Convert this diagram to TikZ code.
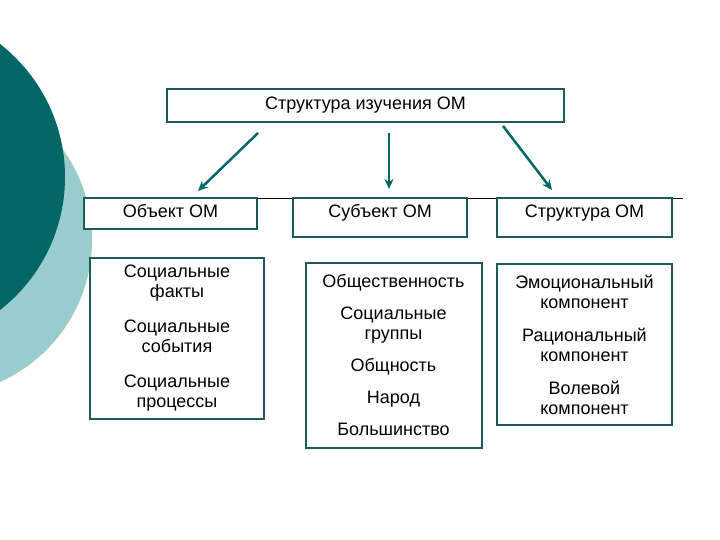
\documentclass[tikz,border=0pt]{standalone}
\usepackage{fontspec}
\setmainfont{Liberation Sans}
\usetikzlibrary{arrows.meta}
\definecolor{darkteal}{RGB}{0,102,102}
\definecolor{lightteal}{RGB}{153,204,204}
\definecolor{boxline}{RGB}{30,90,90}

\begin{document}
\begin{tikzpicture}[x=1pt,y=-1pt,
        headbox/.style={draw=boxline, line width=2pt, fill=white, inner sep=0pt,
            text height=13pt, text depth=4pt, font=\fontsize{18}{20}\selectfont},
        listbox/.style={draw=boxline, line width=2pt, fill=white, inner sep=0pt,
            align=center, font=\fontsize{18}{20}\selectfont},
        arr/.style={-{Stealth[length=10pt,width=9pt]}, line width=2.5pt, draw=darkteal}]
    \useasboundingbox (0,0) rectangle (720,540);

    % circles at the left edge
    \begin{scope}
        \clip (0,0) rectangle (720,540);
        \fill[lightteal] (-63.5,240) circle (155.5pt);
        \fill[darkteal] (-103.5,177) circle (168.5pt);
    \end{scope}

    % thin rule along the top of the boxes
    \coordinate (rulestart) at (84,198);
    \coordinate (ruleend) at (683,198);
    \draw[line width=0.8pt] (rulestart) -- (ruleend);

    \node [headbox, minimum width=397pt, minimum height=33pt] (title) at (365.5,105.5) {Структура изучения ОМ};

    \node [headbox, minimum width=173pt, minimum height=31pt] (obj) at (170.5,213.5) {Объект ОМ};
    \node [headbox, minimum width=174pt, minimum height=39pt, text depth=13pt] (subj) at (380,217.5) {Субъект ОМ};
    \node [headbox, minimum width=175pt, minimum height=39pt, text depth=13pt] (str) at (584.5,217.5) {Структура ОМ};

    \node [listbox, minimum width=174pt, minimum height=161pt] (objlist) at (177,338.5)
        {Социальные\\факты\\[15pt]Социальные\\события\\[15pt]Социальные\\процессы};
    \node [listbox, minimum width=176pt, minimum height=185pt] (subjlist) at (393.5,355)
        {Общественность\\[12pt]Социальные\\группы\\[12pt]Общность\\[12pt]Народ\\[12pt]Большинство};
    \node [listbox, minimum width=175pt, minimum height=161pt] (strlist) at (584.5,344.5)
        {Эмоциональный\\компонент\\[13pt]Рациональный\\компонент\\[13pt]Волевой\\компонент};

    \draw[arr] ([xshift=-107.5pt,yshift=-10pt]title.south) -- ([xshift=27.5pt,yshift=6pt]obj.north);
    \draw[arr] ([xshift=23.5pt,yshift=-10pt]title.south) -- ([xshift=9pt,yshift=8pt]subj.north);
    \draw[arr] ([xshift=137.5pt,yshift=-3pt]title.south) -- ([xshift=-32.5pt,yshift=7pt]str.north);
\end{tikzpicture}
\end{document}
